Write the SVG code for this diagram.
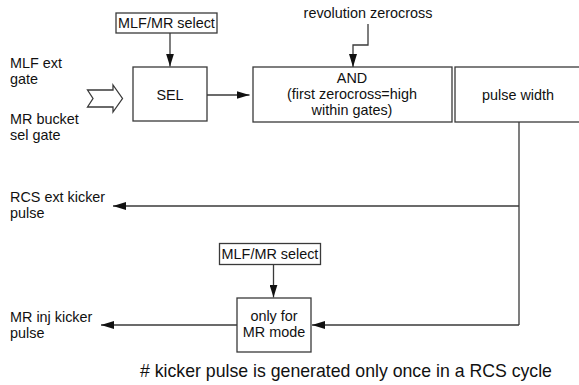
<svg xmlns="http://www.w3.org/2000/svg" width="579" height="385" viewBox="0 0 579 385">
  <style>
    .box { fill: #ffffff; stroke: #3a3a3a; stroke-width: 1.3; }
    .wire { fill: none; stroke: #3a3a3a; stroke-width: 1.3; }
    .t { font-family: "Liberation Sans", Arial, sans-serif; font-size: 14.4px; fill: #111111; }
    .c { text-anchor: middle; }
    .note { font-family: "Liberation Sans", Arial, sans-serif; font-size: 17.7px; fill: #111111; }
  </style>
  <defs>
    <marker id="arrow" viewBox="0 0 13 8" refX="13" refY="4" markerWidth="13" markerHeight="8" markerUnits="userSpaceOnUse" orient="auto">
      <path d="M0,0 L13,4 L0,8 Z" fill="#111111"/>
    </marker>
  </defs>

  <rect width="579" height="385" fill="#ffffff"/>

  <!-- input labels -->
  <g id="inputs">
    <text class="t" x="10" y="68">MLF ext</text>
    <text class="t" x="10" y="84">gate</text>
    <text class="t" x="10" y="124">MR bucket</text>
    <text class="t" x="10" y="140">sel gate</text>
    <polygon class="box" points="87.5,90 113,90 113,85 122.5,98.5 113,112 113,107 87.5,107 93,98.5"/>
  </g>

  <g id="sel-mode-top">
    <rect class="box" x="116" y="13" width="101" height="20"/>
    <text class="t c" x="166.5" y="28">MLF/MR select</text>
  </g>

  <g id="sel">
    <rect class="box" x="133" y="67" width="74" height="54"/>
    <text class="t c" x="170" y="100">SEL</text>
  </g>

  <g id="zerocross">
    <text class="t c" x="368" y="18">revolution zerocross</text>
  </g>

  <g id="and-gate">
    <rect class="box" x="253" y="67" width="199" height="55"/>
    <text class="t c" x="352" y="83">AND</text>
    <text class="t c" x="352" y="99">(first zerocross=high</text>
    <text class="t c" x="352" y="115">within gates)</text>
  </g>

  <g id="pulse-width">
    <rect class="box" x="455" y="67" width="140" height="55"/>
    <text class="t c" x="518" y="100">pulse width</text>
  </g>

  <g id="rcs-out">
    <text class="t" x="10" y="202">RCS ext kicker</text>
    <text class="t" x="10" y="218">pulse</text>
  </g>

  <g id="sel-mode-bottom">
    <rect class="box" x="219.5" y="243.5" width="101" height="21"/>
    <text class="t c" x="270" y="259">MLF/MR select</text>
  </g>

  <g id="mr-only">
    <rect class="box" x="237" y="298" width="74" height="54"/>
    <text class="t c" x="274" y="321">only for</text>
    <text class="t c" x="274" y="337">MR mode</text>
  </g>

  <g id="mr-out">
    <text class="t" x="10" y="322">MR inj kicker</text>
    <text class="t" x="10" y="338">pulse</text>
  </g>

  <g id="connectors">
    <line class="wire" x1="170" y1="33" x2="170" y2="66.5" marker-end="url(#arrow)"/>
    <line class="wire" x1="207" y1="95" x2="249.5" y2="95" marker-end="url(#arrow)"/>
    <path class="wire" d="M368,24 V45 H353 V67" marker-end="url(#arrow)"/>
    <path class="wire" d="M519,122 V325"/>
    <line class="wire" x1="519" y1="206" x2="113" y2="206" marker-end="url(#arrow)"/>
    <line class="wire" x1="519" y1="325" x2="312" y2="325" marker-end="url(#arrow)"/>
    <line class="wire" x1="273.5" y1="264.5" x2="273.5" y2="297.5" marker-end="url(#arrow)"/>
    <line class="wire" x1="237" y1="325" x2="101" y2="325" marker-end="url(#arrow)"/>
  </g>

  <text class="note" x="140" y="377"># kicker pulse is generated only once in a RCS cycle</text>
</svg>
